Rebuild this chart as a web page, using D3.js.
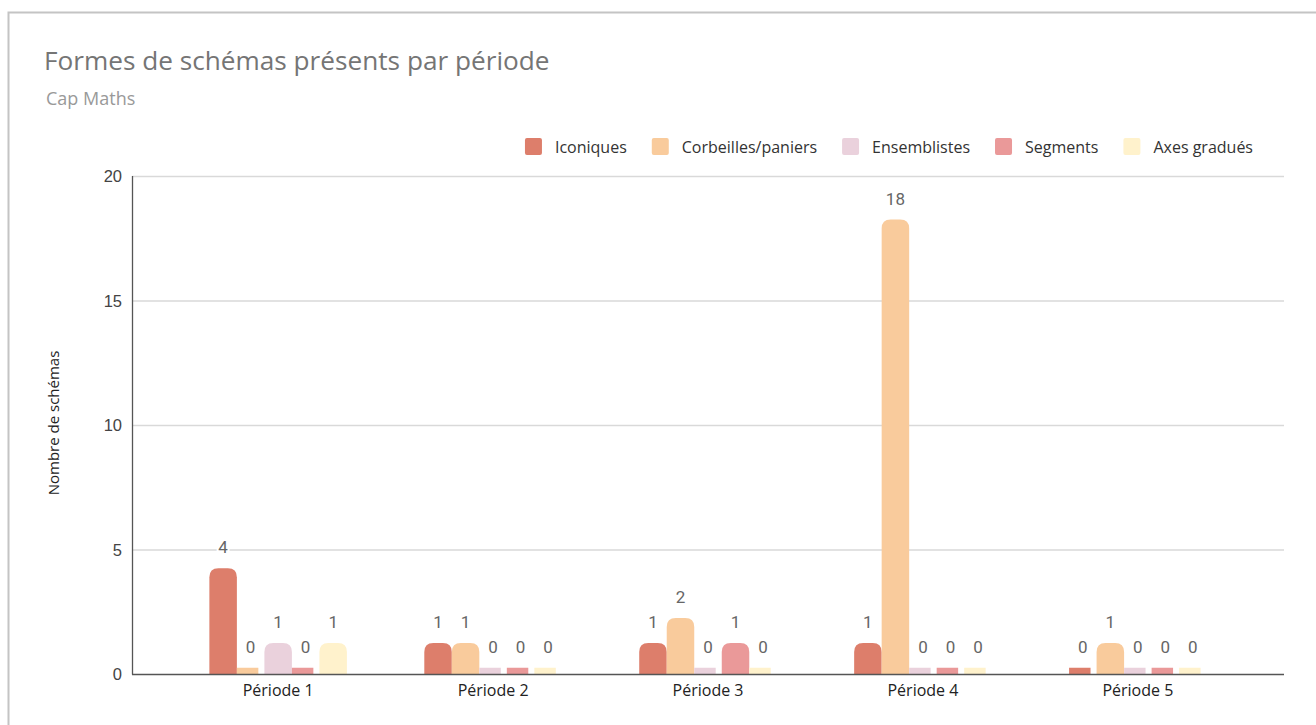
<!DOCTYPE html>
<html><head><meta charset="utf-8">
<script src="https://cdn.jsdelivr.net/npm/d3@7"></script>
<style>
html,body{margin:0;padding:0;background:#fff;}
svg{display:block;}
</style></head>
<body>
<svg id="chart" width="1316" height="725"></svg>
<script>
const title = "Formes de schémas présents par période";
const subtitle = "Cap Maths";
const yTitle = "Nombre de schémas";
const periods = ["Période 1","Période 2","Période 3","Période 4","Période 5"];
const series = ["Iconiques","Corbeilles/paniers","Ensemblistes","Segments","Axes gradués"];
const colors = ["#dd7e6b","#f9cb9c","#ead1dc","#ea9999","#fff2cc"];
const iconiques   = [4,1,1,1,0];
const corbeilles  = [0,1,2,18,1];
const ensemblistes= [1,0,0,0,0];
const segments    = [0,0,1,0,0];
const axesGradues = [1,0,0,0,0];
const yTicks = [0,5,10,15,20];

const values = [iconiques, corbeilles, ensemblistes, segments, axesGradues];
const data = periods.map((p,i)=>({period:p, vals: series.map((s,j)=>({s, j, v: values[j][i]}))}));

const svg = d3.select("#chart");
const W=1316,H=725;
const m = {left:132, right:1284, top:176, bottom:674};
const zeroBoost = 0.25;

svg.append("path").attr("d",`M${W+2},12.5 H8.5 V${H+2}`).attr("fill","none").attr("stroke","#c4c4c4").attr("stroke-width",2);

svg.append("text").attr("x",44).attr("y",70).text(title)
  .attr("font-family","Open Sans").attr("font-size",26.2).attr("fill","#757575");
svg.append("text").attr("x",46).attr("y",105).text(subtitle)
  .attr("font-family","Open Sans").attr("font-size",18).attr("fill","#999999");

const y = d3.scaleLinear().domain([0,20]).range([m.bottom,m.top]);
const x0 = d3.scaleBand().domain(periods).range([m.left,m.right]).padding(0.36);
const x1 = d3.scaleBand().domain(series).range([0,x0.bandwidth()]);

svg.append("g").selectAll("line").data(yTicks.filter(t=>t>0)).join("line")
  .attr("x1",m.left).attr("x2",m.right).attr("y1",d=>y(d)+0.5).attr("y2",d=>y(d)+0.5)
  .attr("stroke","#d9d9d9").attr("stroke-width",1.3);

const yAxis = d3.axisLeft(y).tickValues(yTicks).tickSize(0).tickPadding(10);
const gy = svg.append("g").attr("transform",`translate(${m.left},0)`).call(yAxis);
gy.select(".domain").remove();
gy.selectAll("text").attr("font-family","Liberation Sans, Arial").attr("font-size",16.5).attr("fill","#444").attr("dy","0.35em");

svg.append("text").attr("transform",`translate(59,${(m.top+m.bottom)/2 - 2}) rotate(-90)`)
  .attr("text-anchor","middle").attr("font-family","Open Sans").attr("font-size",15).attr("fill","#222").text(yTitle);

function barPath(x,w,top,bottom,r){
  r=Math.min(r,w/2,bottom-top);
  return `M${x},${bottom} V${top+r} Q${x},${top} ${x+r},${top} H${x+w-r} Q${x+w},${top} ${x+w},${top+r} V${bottom} Z`;
}
const groups = svg.append("g").selectAll("g").data(data).join("g")
  .attr("transform",d=>`translate(${x0(d.period)},0)`);
groups.selectAll("path").data(d=>d.vals).join("path")
  .attr("fill",d=>colors[d.j])
  .attr("d",d=>{
    const w = d.v>0 ? x1.bandwidth() : x1.bandwidth()*0.78;
    return barPath(x1(d.s), w, y(d.v+zeroBoost), y(0), d.v>0?9:0);
  });
groups.selectAll("text").data(d=>d.vals).join("text")
  .attr("x",d=>x1(d.s)+x1.bandwidth()/2)
  .attr("y",d=>y(d.v+zeroBoost)-15)
  .attr("text-anchor","middle").attr("font-family","Roboto").attr("font-size",17).attr("fill","#666")
  .attr("stroke","#fff").attr("stroke-width",4).attr("paint-order","stroke")
  .text(d=>d.v);

svg.append("line").attr("x1",m.left+0.5).attr("x2",m.left+0.5).attr("y1",m.top).attr("y2",m.bottom+0.5).attr("stroke","#555").attr("stroke-width",1.3);
svg.append("line").attr("x1",m.left).attr("x2",m.right).attr("y1",m.bottom+0.5).attr("y2",m.bottom+0.5).attr("stroke","#555").attr("stroke-width",1.3);

const xAxis = d3.axisBottom(x0).tickSize(0).tickPadding(11);
const gx = svg.append("g").attr("transform",`translate(0,${m.bottom})`).call(xAxis);
gx.select(".domain").remove();
gx.selectAll("text").attr("font-family","Open Sans").attr("font-size",16).attr("fill","#222");

const leg = svg.append("g");
const items = leg.selectAll("g").data(series).join("g");
items.append("rect").attr("width",17).attr("height",17).attr("rx",2).attr("y",138).attr("fill",(d,i)=>colors[i]);
items.append("text").attr("x",30).attr("y",153).text(d=>d)
  .attr("font-family","Open Sans").attr("font-size",16).attr("fill","#333");
let cx = 0; const pos=[];
items.each(function(){ const w=d3.select(this).select("text").node().getComputedTextLength(); pos.push(cx); cx += 30 + w + 25; });
const total = cx - 25;
const startX = 1253 - total;
items.attr("transform",(d,i)=>`translate(${startX+pos[i]},0)`);
</script>
</body></html>
